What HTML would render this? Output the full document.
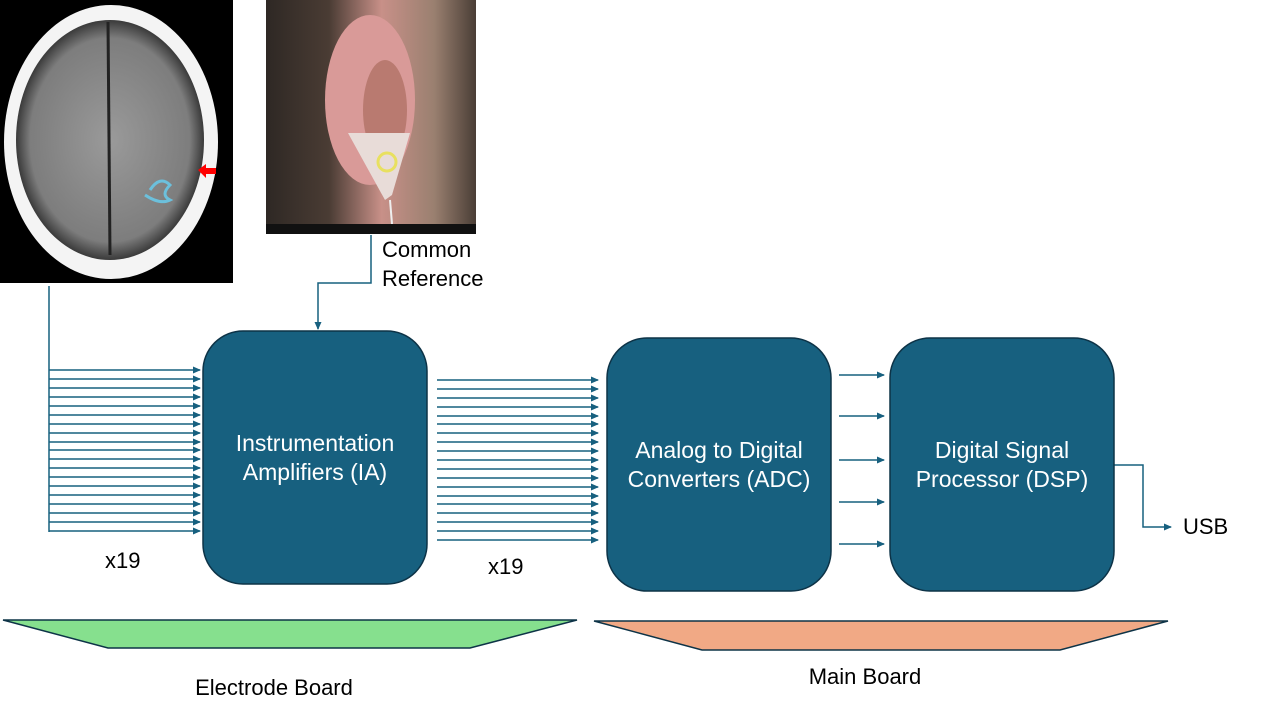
<!DOCTYPE html>
<html><head><meta charset="utf-8"><style>
html,body{margin:0;padding:0;background:#fff;width:1280px;height:720px;overflow:hidden}
svg{display:block}
text{font-family:"Liberation Sans",sans-serif}
</style></head><body>
<svg width="1280" height="720" viewBox="0 0 1280 720" xmlns="http://www.w3.org/2000/svg">
<defs>
<marker id="a" markerWidth="8" markerHeight="8" refX="7" refY="4" orient="auto" markerUnits="userSpaceOnUse"><path d="M0,0.5 L8,4 L0,7.5 Z" fill="#17607f"/></marker>
<radialGradient id="brain" cx="50%" cy="50%" r="50%"><stop offset="0" stop-color="#9a9a9a"/><stop offset="0.85" stop-color="#7d7d7d"/><stop offset="1" stop-color="#3a3a3a"/></radialGradient>
<linearGradient id="ear" x1="0" y1="0" x2="1" y2="0"><stop offset="0" stop-color="#2e2824"/><stop offset="0.3" stop-color="#4a3c34"/><stop offset="0.55" stop-color="#c89088"/><stop offset="0.8" stop-color="#9a8070"/><stop offset="1" stop-color="#4a3e36"/></linearGradient>
</defs>
<rect x="0" y="0" width="233" height="283" fill="#000"/>
<ellipse cx="111" cy="142" rx="107" ry="137" fill="#f4f4f4"/>
<ellipse cx="110" cy="140" rx="94" ry="120" fill="url(#brain)"/>
<line x1="108" y1="22" x2="110" y2="255" stroke="#222" stroke-width="3"/>
<path d="M150,190 q10,-15 20,-5 q-10,10 0,15 q-10,5 -25,-5" fill="none" stroke="#6cc0dc" stroke-width="3"/>
<path d="M198,170 l8,-6 v4 h10 v6 h-10 v4 z" fill="#f00"/>
<rect x="266" y="0" width="210" height="225" fill="url(#ear)"/>
<ellipse cx="370" cy="100" rx="45" ry="85" fill="#d99a98"/>
<ellipse cx="385" cy="110" rx="22" ry="50" fill="#b97a70"/>
<path d="M348,133 L410,133 L392,195 L385,200 Z" fill="#e8dcd8"/>
<circle cx="387" cy="162" r="9" fill="none" stroke="#e8e060" stroke-width="3"/>
<line x1="390" y1="200" x2="392" y2="224" stroke="#eee" stroke-width="2"/>
<rect x="266" y="224" width="210" height="10" fill="#111"/>
<text x="382" y="257" font-size="22" fill="#000">Common</text>
<text x="382" y="286" font-size="22" fill="#000">Reference</text>
<polyline points="371,235 371,283 318,283 318,329" fill="none" stroke="#17607f" stroke-width="1.5" marker-end="url(#a)"/>
<line x1="49" y1="286" x2="49" y2="532" stroke="#17607f" stroke-width="1.5"/>
<g stroke="#17607f" stroke-width="1.5" marker-end="url(#a)">
<line x1="49" y1="370" x2="200" y2="370"/><line x1="49" y1="379" x2="200" y2="379"/><line x1="49" y1="388" x2="200" y2="388"/><line x1="49" y1="397" x2="200" y2="397"/><line x1="49" y1="406" x2="200" y2="406"/><line x1="49" y1="415" x2="200" y2="415"/><line x1="49" y1="424" x2="200" y2="424"/><line x1="49" y1="433" x2="200" y2="433"/><line x1="49" y1="442" x2="200" y2="442"/><line x1="49" y1="450" x2="200" y2="450"/><line x1="49" y1="459" x2="200" y2="459"/><line x1="49" y1="468" x2="200" y2="468"/><line x1="49" y1="477" x2="200" y2="477"/><line x1="49" y1="486" x2="200" y2="486"/><line x1="49" y1="495" x2="200" y2="495"/><line x1="49" y1="504" x2="200" y2="504"/><line x1="49" y1="513" x2="200" y2="513"/><line x1="49" y1="522" x2="200" y2="522"/><line x1="49" y1="531" x2="200" y2="531"/>
<line x1="437" y1="380" x2="598" y2="380"/><line x1="437" y1="389" x2="598" y2="389"/><line x1="437" y1="398" x2="598" y2="398"/><line x1="437" y1="407" x2="598" y2="407"/><line x1="437" y1="416" x2="598" y2="416"/><line x1="437" y1="424" x2="598" y2="424"/><line x1="437" y1="433" x2="598" y2="433"/><line x1="437" y1="442" x2="598" y2="442"/><line x1="437" y1="451" x2="598" y2="451"/><line x1="437" y1="460" x2="598" y2="460"/><line x1="437" y1="469" x2="598" y2="469"/><line x1="437" y1="478" x2="598" y2="478"/><line x1="437" y1="487" x2="598" y2="487"/><line x1="437" y1="496" x2="598" y2="496"/><line x1="437" y1="504" x2="598" y2="504"/><line x1="437" y1="513" x2="598" y2="513"/><line x1="437" y1="522" x2="598" y2="522"/><line x1="437" y1="531" x2="598" y2="531"/><line x1="437" y1="540" x2="598" y2="540"/>
<line x1="839" y1="375" x2="884" y2="375"/><line x1="839" y1="416" x2="884" y2="416"/><line x1="839" y1="460" x2="884" y2="460"/><line x1="839" y1="502" x2="884" y2="502"/><line x1="839" y1="544" x2="884" y2="544"/>
<polyline points="1114,465 1143,465 1143,527 1171,527" fill="none"/>
</g>
<text x="105" y="568" font-size="22" fill="#000">x19</text>
<text x="488" y="574" font-size="22" fill="#000">x19</text>
<text x="1183" y="534" font-size="22" fill="#000">USB</text>
<g fill="#17607f" stroke="#0d3347" stroke-width="1.5">
<rect x="203" y="331" width="224" height="253" rx="40"/>
<rect x="607" y="338" width="224" height="253" rx="40"/>
<rect x="890" y="338" width="224" height="253" rx="40"/>
</g>
<g fill="#fff" font-size="23" text-anchor="middle">
<text x="315" y="451">Instrumentation</text><text x="315" y="480">Amplifiers (IA)</text>
<text x="719" y="458">Analog to Digital</text><text x="719" y="487">Converters (ADC)</text>
<text x="1002" y="458">Digital Signal</text><text x="1002" y="487">Processor (DSP)</text>
</g>
<polygon points="3,620 577,620 470,648 108,648" fill="#86e08e" stroke="#0d3347" stroke-width="1.5"/>
<polygon points="594,621 1168,621 1060,650 702,650" fill="#f1a985" stroke="#0d3347" stroke-width="1.5"/>
<text x="274" y="695" font-size="22" fill="#000" text-anchor="middle">Electrode Board</text>
<text x="865" y="684" font-size="22" fill="#000" text-anchor="middle">Main Board</text>
</svg>
</body></html>
